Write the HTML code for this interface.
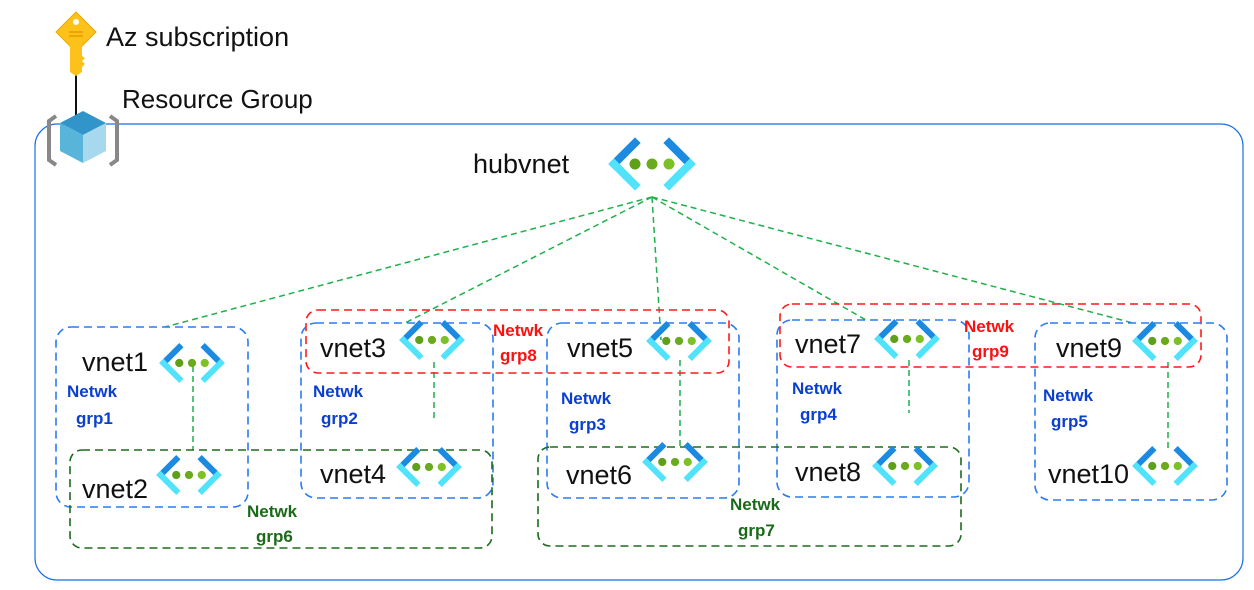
<!DOCTYPE html>
<html><head><meta charset="utf-8"><style>
html,body{margin:0;padding:0;background:#fff;width:1254px;height:590px;overflow:hidden}
svg text{font-family:"Liberation Sans",Arial,sans-serif}
</style></head><body>
<svg width="1254" height="590" viewBox="0 0 1254 590" xmlns="http://www.w3.org/2000/svg">
<defs>
<g id="vn">
<line x1="-38" y1="0" x2="-17" y2="-21" stroke="#1b8ae0" stroke-width="8" stroke-linecap="square"/>
<line x1="-38" y1="0" x2="-17" y2="21" stroke="#50e3fb" stroke-width="8" stroke-linecap="square"/>
<line x1="38" y1="0" x2="17" y2="-21" stroke="#1b8ae0" stroke-width="8" stroke-linecap="square"/>
<line x1="38" y1="0" x2="17" y2="21" stroke="#50e3fb" stroke-width="8" stroke-linecap="square"/>
<circle cx="-17" cy="0" r="5.5" fill="#5ea01a"/>
<circle cx="0" cy="0" r="5.5" fill="#6aab1e"/>
<circle cx="17" cy="0" r="5.5" fill="#7cc127"/>
</g>
</defs>

<rect x="35" y="124" width="1208" height="456" rx="22" fill="none" stroke="#1a6ee8" stroke-width="1.2"/>

<line x1="76" y1="74" x2="76" y2="116" stroke="#111" stroke-width="2"/>
<g>
<path d="M76 12 L96 32 L76 52 L56 32 Z" fill="#fcc21a" stroke="#f2a900" stroke-width="1"/>
<circle cx="76" cy="22" r="3" fill="#fff"/>
<line x1="69" y1="32" x2="83" y2="32" stroke="#e79a00" stroke-width="1.5"/>
<line x1="69" y1="36" x2="83" y2="36" stroke="#e79a00" stroke-width="1.5"/>
<path d="M70 46 L82 46 L82 56 L85 58 L82 61 L85 64 L82 67 L82 72 L76 76 L70 72 Z" fill="#fcc21a"/>
</g>
<text x="106" y="46" font-size="27" fill="#111">Az subscription</text>

<g>
<path d="M56 116 L49 121 L49 160 L56 165" fill="none" stroke="#888" stroke-width="4"/>
<path d="M110 116 L117 121 L117 160 L110 165" fill="none" stroke="#888" stroke-width="4"/>
<path d="M83 111 L106 123 L83 135 L60 123 Z" fill="#3295c9"/>
<path d="M60 123 L83 135 L83 163 L60 151 Z" fill="#59b4d9"/>
<path d="M106 123 L83 135 L83 163 L106 151 Z" fill="#a6d9ee"/>
</g>
<text x="122" y="108" font-size="26" fill="#111">Resource Group</text>

<text x="473" y="173" font-size="27" fill="#111">hubvnet</text>
<use href="#vn" transform="translate(652,164)"/>

<g stroke="#1fb04a" stroke-width="1.5" stroke-dasharray="6,4" fill="none">
<line x1="652" y1="197" x2="165" y2="327"/>
<line x1="652" y1="197" x2="405" y2="323"/>
<line x1="652" y1="197" x2="661" y2="340"/>
<line x1="652" y1="197" x2="866" y2="320"/>
<line x1="652" y1="197" x2="1133" y2="323"/>
<line x1="193" y1="366" x2="193" y2="450"/>
<line x1="434" y1="362" x2="434" y2="421"/>
<line x1="680" y1="360" x2="680" y2="450"/>
<line x1="909" y1="360" x2="909" y2="413"/>
<line x1="1168" y1="362" x2="1168" y2="452"/>
</g>

<g stroke="#ff1a1a" stroke-width="1.6" stroke-dasharray="8,5" fill="none">
<rect x="306" y="310" width="423" height="63" rx="12"/>
<rect x="780" y="304" width="421" height="63" rx="12"/>
</g>
<g stroke="#2a7cf0" stroke-width="1.6" stroke-dasharray="8,5" fill="none">
<rect x="56" y="327" width="192" height="180" rx="15"/>
<rect x="301" y="323" width="192" height="175" rx="15"/>
<rect x="547" y="323" width="192" height="175" rx="15"/>
<rect x="777" y="320" width="192" height="177" rx="15"/>
<rect x="1035" y="323" width="192" height="177" rx="15"/>
</g>
<g stroke="#1d6b1d" stroke-width="1.6" stroke-dasharray="8,5" fill="none">
<rect x="70" y="450" width="422" height="98" rx="12"/>
<rect x="538" y="447" width="423" height="99" rx="12"/>
</g>

<use href="#vn" transform="translate(192,363) scale(0.75)"/>
<use href="#vn" transform="translate(189,475) scale(0.75)"/>
<use href="#vn" transform="translate(432,340) scale(0.75)"/>
<use href="#vn" transform="translate(429,467) scale(0.75)"/>
<use href="#vn" transform="translate(679,341) scale(0.75)"/>
<use href="#vn" transform="translate(675,462) scale(0.75)"/>
<use href="#vn" transform="translate(907,339) scale(0.75)"/>
<use href="#vn" transform="translate(905,466) scale(0.75)"/>
<use href="#vn" transform="translate(1165,341) scale(0.75)"/>
<use href="#vn" transform="translate(1165,466) scale(0.75)"/>

<g font-size="27" fill="#111">
<text x="82" y="371">vnet1</text>
<text x="82" y="498">vnet2</text>
<text x="320" y="357">vnet3</text>
<text x="320" y="483">vnet4</text>
<text x="567" y="357">vnet5</text>
<text x="566" y="484">vnet6</text>
<text x="795" y="353">vnet7</text>
<text x="795" y="481">vnet8</text>
<text x="1056" y="357">vnet9</text>
<text x="1048" y="483">vnet10</text>
</g>

<g font-size="17" font-weight="bold">
<g fill="#0a3fd0">
<text x="67" y="397">Netwk</text><text x="76" y="424">grp1</text>
<text x="313" y="397">Netwk</text><text x="321" y="424">grp2</text>
<text x="561" y="404">Netwk</text><text x="569" y="430">grp3</text>
<text x="792" y="394">Netwk</text><text x="800" y="420">grp4</text>
<text x="1043" y="401">Netwk</text><text x="1051" y="427">grp5</text>
</g>
<g fill="#ff1010">
<text x="493" y="336">Netwk</text><text x="500" y="361">grp8</text>
<text x="964" y="332">Netwk</text><text x="972" y="357">grp9</text>
</g>
<g fill="#1a6a1a">
<text x="247" y="517">Netwk</text><text x="256" y="542">grp6</text>
<text x="730" y="510">Netwk</text><text x="738" y="536">grp7</text>
</g>
</g>
</svg>
</body></html>
